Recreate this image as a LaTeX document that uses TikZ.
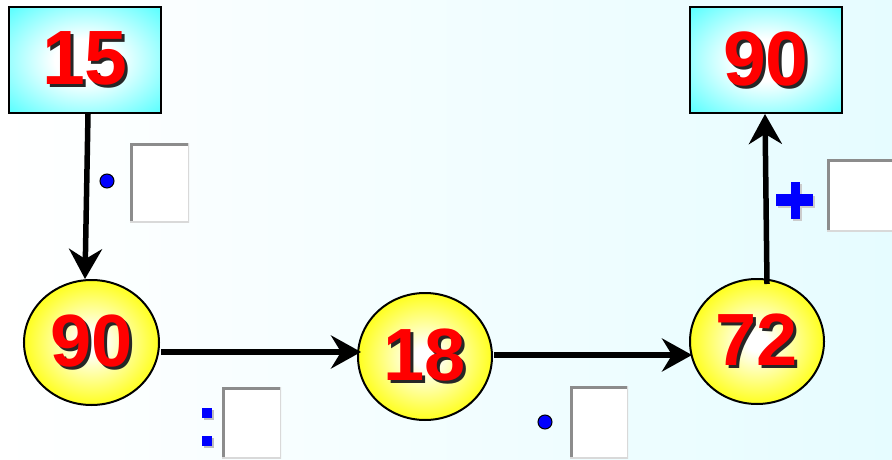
\documentclass[tikz,border=0pt]{standalone}
\usepackage{fontspec}
\setmainfont{Liberation Sans}
\usetikzlibrary{shapes.geometric,arrows.meta}
\definecolor{cyanbox}{RGB}{96,255,255}
\definecolor{yelcirc}{RGB}{255,255,20}
\definecolor{bgcyan}{RGB}{230,252,255}
\definecolor{opblue}{RGB}{0,0,255}
\pgfdeclareradialshading{boxglow}{\pgfpoint{0bp}{0bp}}{color(0bp)=(white); color(10bp)=(white); color(34bp)=(cyanbox); color(50bp)=(cyanbox)}
\pgfdeclareradialshading{ballglow}{\pgfpoint{0bp}{0bp}}{color(0bp)=(white); color(4bp)=(white); color(26bp)=(yelcirc); color(50bp)=(yelcirc)}
\newcommand\shnum[1]{\makebox[0pt][l]{\hspace{3pt}\raisebox{-3pt}{\color{black!85}#1}}\textcolor{red}{#1}}
\tikzset{
  numbox/.style={rectangle, draw=black, line width=2pt, shading=boxglow,
    minimum width=152pt, minimum height=106pt, inner sep=0pt,
    font=\fontsize{77}{77}\selectfont\bfseries},
  numball/.style={ellipse, draw=black, line width=2pt, shading=ballglow,
    inner sep=0pt, font=\fontsize{74}{74}\selectfont\bfseries},
  ansbox/.style={rectangle, fill=white, inner sep=0pt,
    path picture={
      \draw[black!45, line width=5pt] (path picture bounding box.south west) -- (path picture bounding box.north west) -- (path picture bounding box.north east);
      \draw[black!15, line width=3pt] (path picture bounding box.north east) -- (path picture bounding box.south east) -- (path picture bounding box.south west);
    }},
  flowarrow/.style={line width=5.5pt, -{Stealth[length=30pt,width=33pt,inset=10pt]}},
  opdot/.style={circle, fill=opblue, draw=black, line width=1pt, minimum size=14pt, inner sep=0pt}
}
\begin{document}
\begin{tikzpicture}[x=1pt,y=-1pt]
\useasboundingbox (0,0) rectangle (892,460);
\shade[left color=white, right color=bgcyan] (0,0) rectangle (892,460);

% top boxes
\node[numbox] (b15) at (85,60) {\shnum{15}};
\node[numbox] (b90) at (766,60) {\shnum{90}};

% balls
\node[numball, minimum width=135pt, minimum height=125pt] (c90) at (91.5,342.5) {\shnum{90}};
\node[numball, minimum width=134pt, minimum height=127pt] (c18) at (425,356.5) {\shnum{18}};
\node[numball, minimum width=134pt, minimum height=125pt] (c72) at (757,341.5) {\shnum{72}};

% answer boxes
\node[ansbox, minimum width=59pt, minimum height=79pt] (s1) at (159.5,182.5) {};
\node[ansbox, minimum width=59pt, minimum height=71pt] (s2) at (251.5,422.5) {};
\node[ansbox, minimum width=58pt, minimum height=72pt] (s3) at (599,422) {};
\node[ansbox, minimum width=73pt, minimum height=72pt] (s4) at (863.5,195) {};

% operators
\node[opdot] (d1) at (107,181) {};
\node[opdot] (d2) at (545,422) {};
\fill[black!25] (204,410) rectangle (214,420);
\fill[black!25] (204,438) rectangle (214,448);
\fill[opblue] (202,408) rectangle (212,418);
\fill[opblue] (202,436) rectangle (212,446);
\fill[black!20] (778,196) rectangle (815,208);
\fill[black!20] (793,184) rectangle (802,221);
\fill[opblue] (776,194) rectangle (813,206);
\fill[opblue] (791,182) rectangle (800,219);

% arrows
\draw[flowarrow] ([xshift=3pt]b15.south) -- ([xshift=-6.5pt]c90.north);
\draw[flowarrow] ([xshift=1pt,yshift=-9.5pt]c90.east) -- ([xshift=4pt,yshift=4.5pt]c18.west);
\draw[flowarrow] ([xshift=1pt,yshift=1.5pt]c18.east) -- ([xshift=3pt,yshift=-13.5pt]c72.west);
\draw[flowarrow] ([xshift=10pt,yshift=-6pt]c72.north) -- ([xshift=-1pt]b90.south);
\end{tikzpicture}
\end{document}
